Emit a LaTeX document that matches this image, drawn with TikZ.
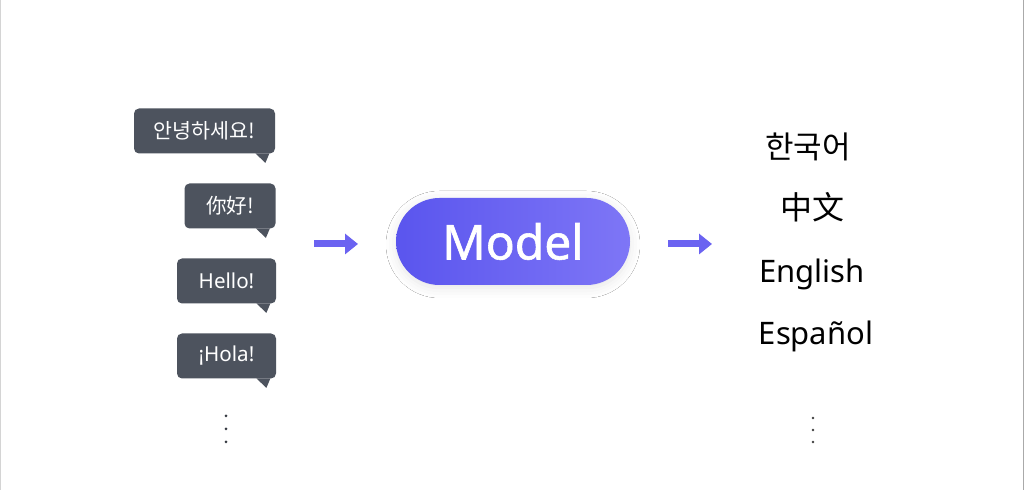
\documentclass[tikz,border=0pt]{standalone}
\usepackage{fontspec}
\setmainfont{Noto Sans}
\newfontfamily\krfont{Noto Sans CJK KR}
\newfontfamily\scfont{Noto Sans CJK SC}
\newfontfamily\modelfont[FakeBold=1.2]{Noto Sans}
\usetikzlibrary{arrows.meta,shapes.misc,shadows.blur,calc}

\definecolor{bubblegray}{HTML}{4D535E}
\definecolor{pillleft}{HTML}{5A55EE}
\definecolor{pillright}{HTML}{7E76F6}
\definecolor{arrowblue}{HTML}{6B63F1}
\definecolor{edgegray}{HTML}{D4D4D4}

\tikzset{
  bubble/.style={fill=bubblegray, text=white, rounded corners=2.5pt, inner sep=0pt,
    minimum height=22.5pt, font=\fontsize{10.3}{12}\selectfont},
  lang/.style={text=black, inner sep=0pt},
  flow/.style={arrowblue, line width=3.5pt, -{Triangle[length=6.5pt,width=10pt]}},
}
\newcommand{\bubbletail}[1]{%
  \fill[bubblegray] ($(#1.south east)+(-20,-0.5)$) -- ($(#1.south east)+(-6,-0.5)$)
    -- ($(#1.south east)+(-10,9)$) -- cycle;}

\begin{document}
\begin{tikzpicture}[x=0.5pt,y=-0.5pt]
\useasboundingbox (0,0) rectangle (1024,490);
\fill[white] (0,0) rectangle (1024,490);
\draw[edgegray, line width=0.5pt] (0.5,0) -- (0.5,490);
\draw[edgegray!80!black, line width=0.5pt] (1023.5,0) -- (1023.5,490);

% speech bubbles
\node[bubble, minimum width=70.5pt] (hi) at (204.5,131) {\krfont 안녕하세요!};
\node[bubble, minimum width=45.5pt] (nihao) at (230,206) {\scfont 你好!};
\node[bubble, minimum width=49.5pt] (hello) at (226.5,281) {Hello!};
\node[bubble, minimum width=49.5pt] (hola) at (226.5,356) {¡Hola!};
\bubbletail{hi}
\bubbletail{nihao}
\bubbletail{hello}
\bubbletail{hola}
\foreach \y in {416,429,442} \fill[bubblegray!70!black] (226,\y) circle (1.5);

% model
\node[rounded rectangle, minimum width=117pt, minimum height=43.5pt, inner sep=0pt,
  left color=pillleft, right color=pillright, text=white,
  blur shadow={shadow xshift=0pt, shadow yshift=-1.5pt, shadow blur radius=5pt, shadow opacity=10},
  font=\modelfont\fontsize{24}{28}\selectfont] (model) at (513,241.5) {Model};

\coordinate (inA) at (314,244);
\coordinate (inB) at (358,244);
\coordinate (outA) at (668,244);
\coordinate (outB) at (712,244);
\draw[flow] (inA) -- (inB);
\draw[flow] (outA) -- (outB);

% target languages
\node[lang, font=\krfont\fontsize{15.5}{18}\selectfont] (korean) at (808,147) {한국어};
\node[lang, font=\scfont\fontsize{16}{18}\selectfont] (chinese) at (812,207.5) {中文};
\node[lang, anchor=base, font=\fontsize{15.5}{18}\selectfont] (english) at (812,283) {English};
\node[lang, anchor=base, font=\fontsize{15.5}{18}\selectfont] (spanish) at (816,345) {Español};
\foreach \y in {418,430,442} \fill[black!75] (813,\y) circle (1.4);
\end{tikzpicture}
\end{document}
